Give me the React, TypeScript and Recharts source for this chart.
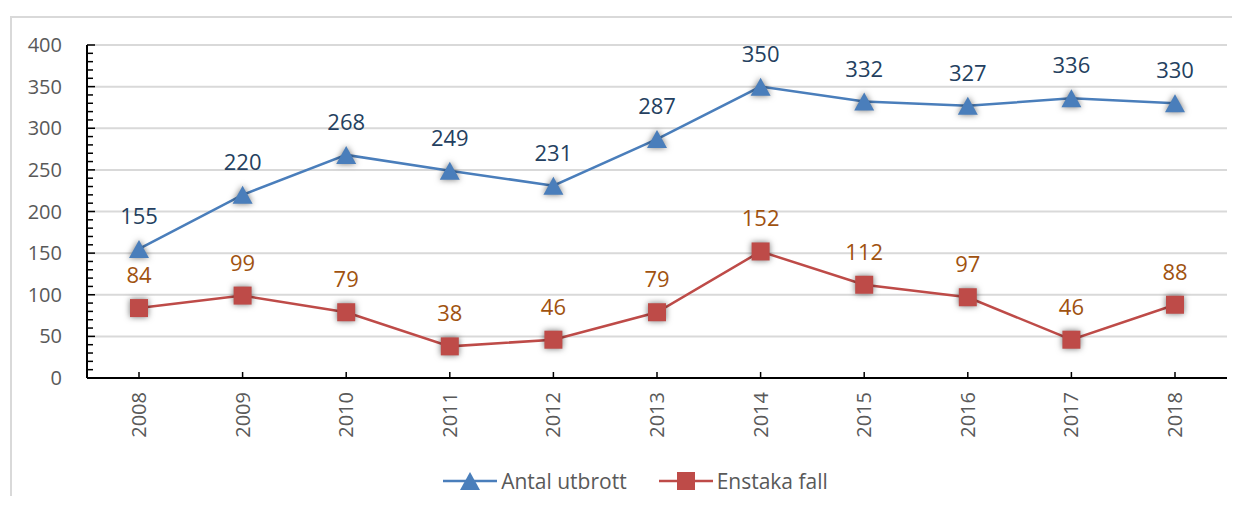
import React from "react";
import { LineChart, Line, XAxis, YAxis, ReferenceLine, Legend, LabelList } from "recharts";

const years = ["2008", "2009", "2010", "2011", "2012", "2013", "2014", "2015", "2016", "2017", "2018"];
const outbreaks = [155, 220, 268, 249, 231, 287, 350, 332, 327, 336, 330];
const singleCases = [84, 99, 79, 38, 46, 79, 152, 112, 97, 46, 88];
const majorTicks = [0, 50, 100, 150, 200, 250, 300, 350, 400];
const minorStep = 10;

const seriesNames = { outbreaks: "Antal utbrott", singleCases: "Enstaka fall" };

const blue = "#4A7EBB";
const red = "#BE4B48";
const font = "'Open Sans', sans-serif";
const shadow = "drop-shadow(0px 0px 3px rgba(0,0,0,0.55))";

const data = years.map((year, i) => ({ year, outbreaks: outbreaks[i], singleCases: singleCases[i] }));

const allTicks: number[] = [];
for (let v = majorTicks[0]; v <= majorTicks[majorTicks.length - 1]; v += minorStep) allTicks.push(v);

function YTick({ x, y, payload }: any) {
  const v = payload.value;
  const major = majorTicks.includes(v);
  return (
    <g>
      <line x1={x} x2={x + (major ? 8 : 6)} y1={y} y2={y} stroke="#000" strokeWidth={1.5} />
      {major && (
        <text x={x - 25} y={y} dy="0.35em" textAnchor="end" fill="#595959" fontSize={20} fontFamily={font}>
          {v}
        </text>
      )}
    </g>
  );
}

function XTick({ x, y, payload }: any) {
  return (
    <g>
      <line x1={x} x2={x} y1={y} y2={y - 6} stroke="#000" strokeWidth={1.5} />
      <text
        x={x}
        y={y + 14}
        transform={`rotate(-90 ${x} ${y + 14})`}
        dy="0.35em"
        textAnchor="end"
        fill="#595959"
        fontSize={20}
        fontFamily={font}
      >
        {payload.value}
      </text>
    </g>
  );
}

function Triangle({ cx, cy, fill, withShadow = true }: any) {
  if (cx == null || cy == null) return null;
  return (
    <path
      d={`M${cx},${cy - 9} L${cx + 10},${cy + 9} L${cx - 10},${cy + 9} Z`}
      fill={fill}
      style={withShadow ? { filter: shadow } : undefined}
    />
  );
}

function Square({ cx, cy, fill, withShadow = true }: any) {
  if (cx == null || cy == null) return null;
  return <rect x={cx - 9} y={cy - 9} width={18} height={18} fill={fill} style={withShadow ? { filter: shadow } : undefined} />;
}

function LegendContent() {
  const item = (color: string, name: string, marker: React.ReactNode) => (
    <div style={{ display: "flex", alignItems: "center", marginRight: 32 }}>
      <svg width={54} height={22}>
        <line x1={0} x2={54} y1={11} y2={11} stroke={color} strokeWidth={2.5} />
        {marker}
      </svg>
      <span style={{ marginLeft: 4 }}>{name}</span>
    </div>
  );
  return (
    <div
      style={{
        display: "flex",
        justifyContent: "center",
        alignItems: "center",
        height: 30,
        paddingLeft: 64,
        fontFamily: font,
        fontSize: 21,
        color: "#595959",
      }}
    >
      {item(blue, seriesNames.outbreaks, <Triangle cx={27} cy={11} fill={blue} withShadow={false} />)}
      {item(red, seriesNames.singleCases, <Square cx={27} cy={11} fill={red} withShadow={false} />)}
    </div>
  );
}

export default function App() {
  return (
    <div
      style={{
        marginLeft: 2,
        marginTop: 8,
        width: 1222,
        height: 480,
        borderTop: "2px solid #d9d9d9",
        borderLeft: "2px solid #d9d9d9",
        boxSizing: "border-box",
        background: "#fff",
      }}
    >
      <LineChart width={1220} height={478} data={data} margin={{ top: 27, right: 5, left: 0, bottom: 0 }}>
        {majorTicks.slice(1).map((v) => (
          <ReferenceLine key={v} y={v} stroke="#d9d9d9" strokeWidth={2} />
        ))}
        <XAxis
          dataKey="year"
          height={88}
          padding={{ left: 52, right: 52 }}
          tickLine={false}
          tickSize={0}
          tickMargin={0}
          axisLine={{ stroke: "#000", strokeWidth: 2 }}
          tick={<XTick />}
          interval={0}
        />
        <YAxis
          width={75}
          domain={[0, 400]}
          ticks={allTicks}
          interval={0}
          tickLine={false}
          tickSize={0}
          tickMargin={0}
          axisLine={{ stroke: "#000", strokeWidth: 2 }}
          tick={<YTick />}
        />
        <Legend verticalAlign="bottom" height={30} content={<LegendContent />} />
        <Line
          dataKey="outbreaks"
          name={seriesNames.outbreaks}
          stroke={blue}
          strokeWidth={2.5}
          dot={(p: any) => <Triangle key={p.index} cx={p.cx} cy={p.cy} fill={blue} />}
          isAnimationActive={false}
        >
          <LabelList dataKey="outbreaks" position="top" offset={25} fill="#243F60" fontSize={22} fontFamily={font} />
        </Line>
        <Line
          dataKey="singleCases"
          name={seriesNames.singleCases}
          stroke={red}
          strokeWidth={2.5}
          dot={(p: any) => <Square key={p.index} cx={p.cx} cy={p.cy} fill={red} />}
          isAnimationActive={false}
        >
          <LabelList dataKey="singleCases" position="top" offset={25} fill="#A0520F" fontSize={22} fontFamily={font} />
        </Line>
      </LineChart>
    </div>
  );
}
